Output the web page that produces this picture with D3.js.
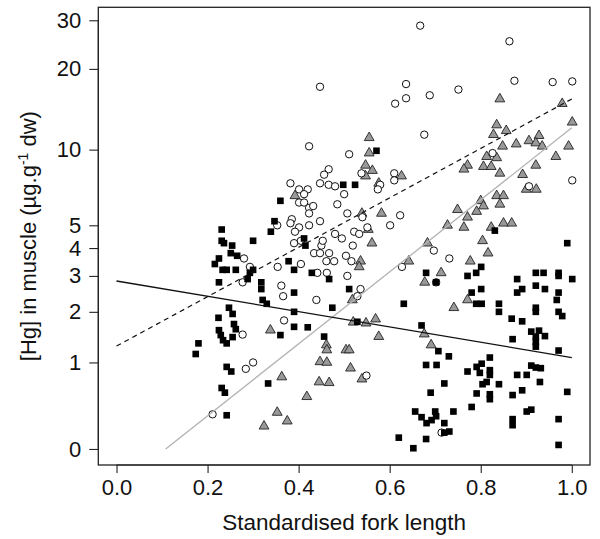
<!DOCTYPE html>
<html><head><meta charset="utf-8">
<script src="https://cdn.jsdelivr.net/npm/d3@7"></script>
<style>
body{margin:0;background:#fff;}
text{font-family:"Liberation Sans",Arial,Helvetica,sans-serif;}
</style></head>
<body><svg id="c" width="600" height="539"></svg>
<script>
// ---- data ----
const xTicks = [0, 0.2, 0.4, 0.6, 0.8, 1.0];
const yTicks = [0, 1, 2, 3, 4, 5, 10, 20, 30];
const xLabel = "Standardised fork length";

// open circles
const circles = [[0.447,17.2],[0.423,10.3],[0.466,8.4],[0.456,8.0],[0.382,7.4],[0.447,7.4],[0.466,7.3],[0.401,7.0],[0.420,7.0],[0.412,6.7],[0.401,6.2],[0.412,6.2],[0.423,5.9],[0.432,6.0],[0.423,5.6],[0.447,5.2],[0.385,5.3],
[0.353,5.0],[0.382,5.1],[0.401,4.9],[0.423,5.0],[0.392,4.7],[0.390,4.2],[0.405,4.3],[0.434,3.8],[0.447,3.8],[0.450,4.1],[0.453,4.3],[0.467,3.8],[0.461,3.5],[0.280,3.6],[0.293,3.3],[0.277,2.8],[0.354,3.3],[0.362,2.7],[0.366,2.4],[0.405,3.4],[0.441,3.1],[0.462,3.1],[0.439,2.3],[0.368,1.8],[0.277,1.5],[0.300,1.0],[0.284,0.9],[0.211,0.32],
[0.667,28.7],[0.863,25.2],[0.636,17.6],[0.636,15.6],[0.612,14.9],[0.688,16.0],[0.751,16.8],[0.874,18.1],[0.958,17.9],[1.001,18.0],[0.676,11.4],[0.511,9.6],[0.500,6.7],[0.485,6.1],[0.507,5.6],[0.610,8.1],[0.610,7.6],[0.579,7.3],[0.574,7.0],[0.538,8.1],[0.540,5.4],[0.623,5.5],[0.826,9.7],[0.906,7.2],[1.001,7.6],[0.480,7.2],
[0.480,4.6],[0.495,4.4],[0.522,4.7],[0.533,4.6],[0.551,4.9],[0.601,5.0],[0.519,4.1],[0.504,3.7],[0.516,3.5],[0.478,3.5],[0.507,3.0],[0.536,2.6],[0.529,2.4],[0.697,3.9],[0.731,3.6],[0.627,3.3],[0.702,2.8],[0.549,0.8],[0.714,0.14]];

// filled squares
const squares = [[0.498,7.3],[0.360,6.3],[0.347,5.2],[0.339,4.7],[0.231,4.8],[0.571,9.9],[0.524,7.3],
[0.231,4.3],[0.236,4.2],[0.254,4.1],[0.251,3.8],[0.265,3.7],[0.225,3.6],[0.216,3.4],[0.233,3.2],[0.242,3.2],[0.262,3.2],[0.225,2.8],[0.300,4.3],[0.300,3.2],[0.293,3.1],[0.288,2.9],[0.412,4.4],[0.415,4.1],[0.378,3.5],[0.390,3.2],[0.429,3.1],[0.467,2.9],[0.318,2.8],[0.318,2.6],[0.321,2.3],[0.330,2.2],[0.390,2.5],[0.390,2.0],[0.474,2.1],[0.511,2.6],[0.247,2.1],[0.255,1.95],[0.224,1.86],[0.258,1.72],[0.262,1.61],[0.225,1.59],[0.229,1.49],[0.234,1.39],[0.242,1.33],[0.255,1.45],[0.180,1.33],[0.174,1.14],[0.390,1.66],[0.420,1.65],[0.360,1.49],[0.456,1.46],[0.242,0.93],[0.252,0.86],[0.231,0.63],[0.238,0.57],[0.333,0.69],[0.242,0.31],
[0.831,4.75],[0.990,4.2],[0.801,3.3],[0.790,3.1],[0.771,3.0],[0.680,3.1],[0.702,2.8],[0.801,2.6],[0.780,2.5],[0.790,2.2],[0.802,2.2],[0.840,2.2],[0.840,2.0],[0.868,1.84],[0.891,1.78],[0.880,2.9],[0.891,2.6],[0.880,2.5],[0.921,3.1],[0.938,3.1],[0.971,3.1],[0.971,3.0],[1.001,2.9],[0.921,2.7],[0.941,2.6],[0.971,2.5],[0.967,2.3],[0.921,2.1],[0.921,2.0],[0.971,2.0],[0.979,1.9],[0.911,1.56],[0.928,1.58],[0.921,1.46],[0.921,1.36],[0.921,1.27],[0.941,1.47],[0.870,1.41],[0.971,1.20],[0.631,2.2],[0.529,1.77],[0.670,1.69],[0.707,1.19],[0.730,1.10],[0.680,0.96],[0.703,0.96],[0.820,1.08],[0.771,0.86],[0.791,0.93],[0.802,0.98],[0.798,0.84],[0.820,0.88],[0.820,0.81],[0.813,0.71],[0.804,0.68],[0.840,0.68],[0.791,0.56],[0.820,0.55],[0.820,0.49],[0.911,0.95],[0.921,0.92],[0.932,0.91],[0.880,0.81],[0.901,0.81],[0.930,0.71],[0.870,0.54],[0.891,0.60],[0.990,0.58],[0.720,0.69],[0.690,0.57],[0.780,0.40],[0.740,0.35],[0.656,0.35],[0.670,0.29],[0.681,0.23],[0.692,0.26],[0.700,0.35],[0.702,0.30],[0.720,0.23],[0.720,0.14],[0.731,0.15],[0.870,0.27],[0.870,0.21],[0.901,0.35],[0.911,0.37],[0.971,0.27],[0.620,0.095],[0.680,0.083],[0.652,0.006],[0.971,0.033]];

// grey triangles
const triangles = [[0.392,6.6],[0.338,1.59],[0.363,0.78],[0.418,0.52],[0.353,0.34],[0.375,0.25],[0.324,0.20],[0.461,1.30],[0.462,1.21],[0.447,1.01],[0.462,1.00],[0.445,0.71],[0.467,0.70],
[0.555,11.1],[0.555,9.7],[0.547,8.7],[0.562,8.3],[0.547,7.9],[0.576,7.4],[0.626,7.9],[0.539,5.6],[0.582,5.6],[0.842,15.5],[0.979,14.9],[1.001,12.7],[0.835,12.4],[0.856,11.8],[0.828,11.4],[0.848,10.3],[0.878,10.5],[0.906,10.8],[0.928,11.3],[0.921,10.6],[0.935,10.3],[0.993,10.3],[0.965,9.4],[0.813,9.4],[0.835,9.3],[0.806,8.6],[0.823,8.6],[0.771,8.7],[0.763,8.4],[0.842,8.1],[0.892,8.0],[0.921,8.7],[0.900,7.0],[0.922,7.0],[0.835,6.6],[0.850,6.6],[0.842,6.1],[0.800,6.3],[0.806,6.0],[0.791,5.7],[0.771,5.4],[0.749,5.8],
[0.727,5.0],[0.763,4.9],[0.823,4.9],[0.850,5.1],[0.868,5.1],[0.804,4.3],[0.561,4.2],[0.553,4.8],[0.683,4.2],[0.816,3.8],[0.777,3.5],[0.642,3.5],[0.536,3.5],[0.533,3.3],[0.713,3.1],[0.677,2.8],[0.771,2.3],[0.741,2.1],[0.518,2.3],[0.520,1.76],[0.548,1.74],[0.569,1.83],[0.576,1.46],[0.676,1.51],[0.691,1.30],[0.504,1.21],[0.511,1.21],[0.514,0.91],[0.539,0.75]];

// fitted lines (endpoints, in data units)
const fitSquares   = [[0, 2.84], [1, 1.08]];
const fitCircles   = [[0, 1.28], [1, 15.5]];
const fitTriangles = [[0.108, 0], [1, 12.1]];

// ---- chart ----
const svg = d3.select("#c");
const L = 98.3, R = 590, T = 7.3, B = 465;
const x = d3.scaleLinear().domain([-0.04, 1.04]).range([L, R]);
const y = d3.scaleSymlog().constant(1).domain([-0.137, 33.4]).range([B, T]);

const g = svg.append("g");

const tri = d3.symbol().type(d3.symbolTriangle).size(42);
g.selectAll(".tri").data(triangles).join("path")
  .attr("d", tri)
  .attr("transform", d => `translate(${x(d[0])},${y(d[1])})`)
  .attr("fill", "#999999").attr("stroke", "#222").attr("stroke-width", 0.9);

g.selectAll(".cir").data(circles).join("circle")
  .attr("cx", d => x(d[0])).attr("cy", d => y(d[1])).attr("r", 3.7)
  .attr("fill", "#fff").attr("stroke", "#111").attr("stroke-width", 1);

const sq = d3.symbol().type(d3.symbolSquare).size(44);
g.selectAll(".sq").data(squares).join("path")
  .attr("d", sq)
  .attr("transform", d => `translate(${x(d[0])},${y(d[1])})`)
  .attr("fill", "#000");

const line = d3.line().x(d => x(d[0])).y(d => y(d[1]));
svg.append("path").datum(fitTriangles).attr("d", line)
  .attr("fill", "none").attr("stroke", "#b3b3b3").attr("stroke-width", 1.3);
svg.append("path").datum(fitCircles).attr("d", line)
  .attr("fill", "none").attr("stroke", "#111").attr("stroke-width", 1.2).attr("stroke-dasharray", "5,4");
svg.append("path").datum(fitSquares).attr("d", line)
  .attr("fill", "none").attr("stroke", "#111").attr("stroke-width", 1.3);

// box
svg.append("rect").attr("x", L).attr("y", T).attr("width", R - L).attr("height", B - T)
  .attr("fill", "none").attr("stroke", "#222").attr("stroke-width", 1.3);

// axes
const xAxis = d3.axisBottom(x).tickValues(xTicks).tickFormat(d3.format(".1f")).tickSize(8).tickPadding(6).tickSizeOuter(0);
const xa = svg.append("g").attr("transform", `translate(0,${B})`).call(xAxis);
xa.select(".domain").attr("d", `M${x(0)},0H${x(1)}`).attr("stroke", "#222");
const yAxis = d3.axisLeft(y).tickValues(yTicks).tickFormat(d3.format("d")).tickSize(9).tickPadding(8).tickSizeOuter(0);
const ya = svg.append("g").attr("transform", `translate(${L},0)`).call(yAxis);
ya.select(".domain").attr("d", `M0,${y(0)}V${y(30)}`).attr("stroke", "#222");
svg.selectAll(".tick line").attr("stroke", "#222").attr("stroke-width", 1.1);
svg.selectAll(".tick text").attr("font-size", 22).attr("fill", "#111")
  .attr("font-family", "'Liberation Sans', Arial, sans-serif");

svg.append("text").attr("x", (L + R) / 2).attr("y", 530).attr("text-anchor", "middle")
  .attr("font-size", 22.5).attr("fill", "#111").text(xLabel);

const yl = svg.append("text").attr("transform", `translate(36,${(T + B) / 2}) rotate(-90)`)
  .attr("text-anchor", "middle").attr("font-size", 22).attr("fill", "#111");
yl.append("tspan").text("[Hg] in muscle (µg.g");
yl.append("tspan").attr("font-size", 14).attr("dy", -8).text("-1");
yl.append("tspan").attr("dy", 8).text(" dw)");
</script></body></html>
